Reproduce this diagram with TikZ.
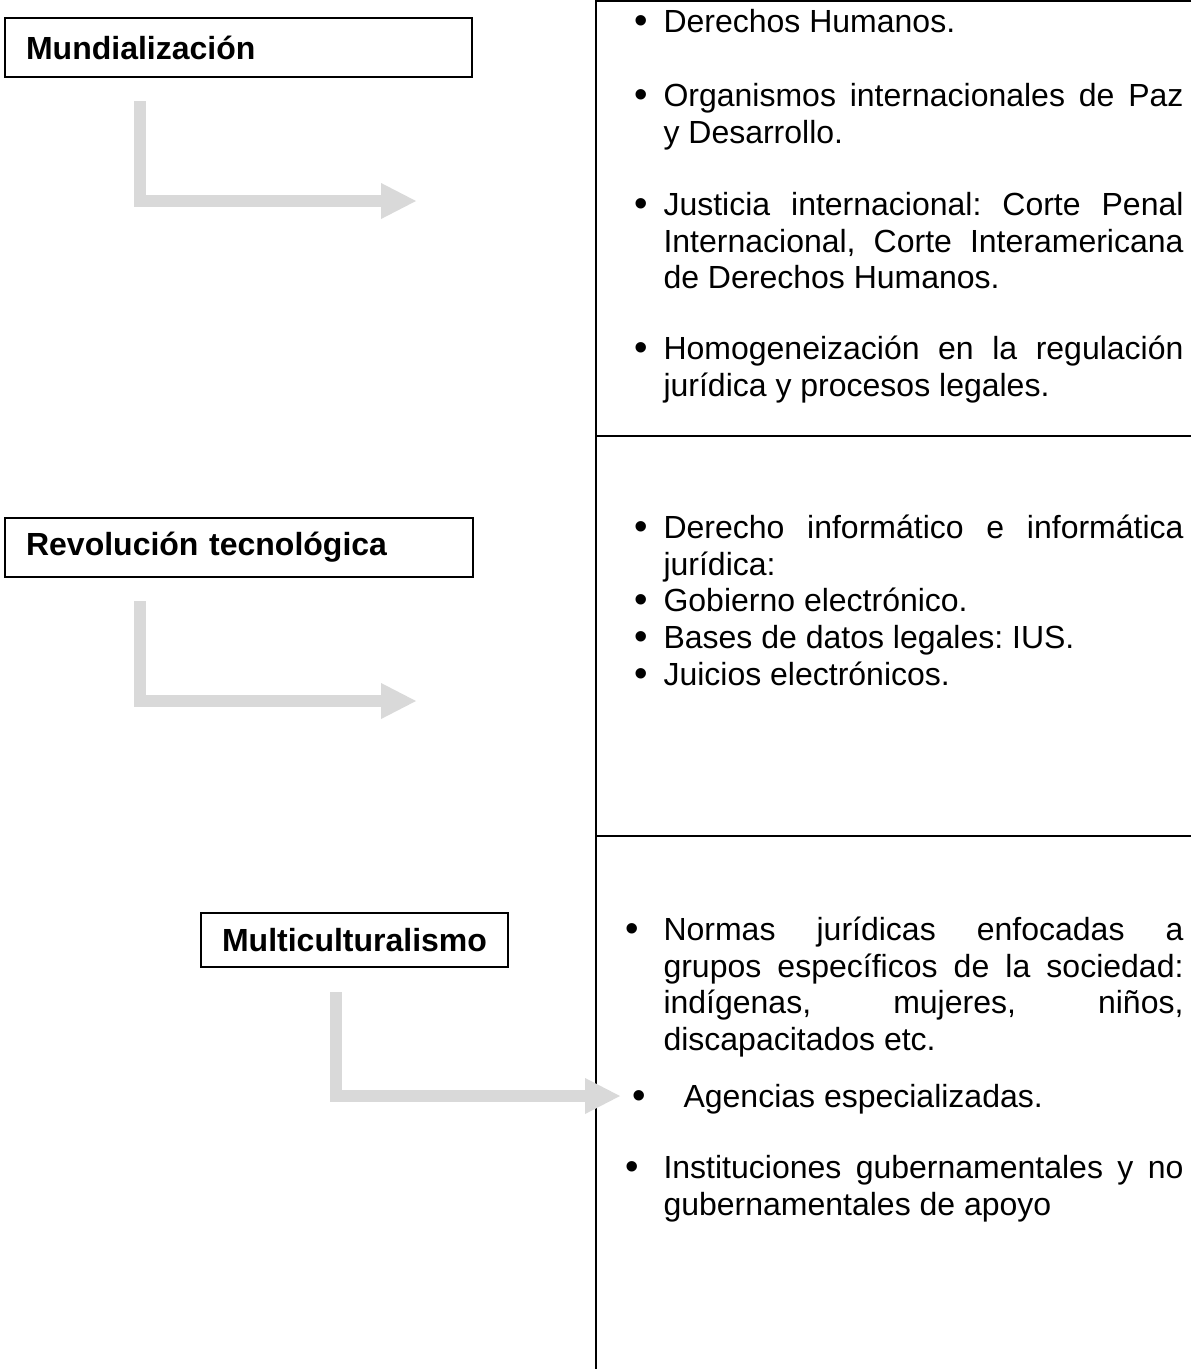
\documentclass[tikz,border=0pt]{standalone}
\usepackage{fontspec}
\setmainfont{Liberation Sans}
\usetikzlibrary{positioning}
\usetikzlibrary{arrows.meta}
\tolerance=10000
\hyphenpenalty=10000
\frenchspacing
\tikzset{
  tema/.style           = { rectangle, draw=black, line width=0.75pt, inner xsep=7.9pt, inner ysep=0pt,
                            font=\fontsize{12}{13.8}\selectfont\bfseries },
  punto/.style          = { anchor=north west, text width=195pt, align=justify, inner sep=0pt,
                            font=\fontsize{12}{13.8}\selectfont },
  flecha/.style         = { draw=black!15, line width=4.5pt,
                            -{Triangle[width=13.5pt,length=13.1pt,line width=0pt]} },
  borde/.style          = { draw=black, line width=0.75pt },
}
\newcommand\vin[1]{\strut\llap{\raisebox{-0.3pt}{\scalebox{1.2}{\textbullet}}\kern#1}}

\begin{document}
\begin{tikzpicture}[x=0.375pt,y=-0.375pt]
  \useasboundingbox (0,0) rectangle (1191,1369);

  \draw [borde] (1191,1) -- (596,1) -- (596,1369);
  \draw [borde] (596,436) -- (1191,436);
  \draw [borde] (596,836) -- (1191,836);

  \node (mundial)    [tema,anchor=north west,text width=159.4pt,minimum height=22.1pt] at (4,17)   {Mundialización};
  \node (revolucion) [tema,anchor=north west,text width=159.8pt,minimum height=22.1pt] at (4,517)  {Revolución tecnológica};
  \node (multi)      [tema,anchor=north west,minimum height=20.3pt]                    at (200,912) {Multiculturalismo};

  \node (derechos)   [punto] at (663,6)    {\vin{5.8pt}Derechos Humanos.};
  \node (organismos) [punto] at (663,80)   {\vin{5.8pt}Organismos internacionales de Paz\linebreak y Desarrollo.};
  \node (justicia)   [punto] at (663,189)  {\vin{5.8pt}Justicia internacional: Corte Penal\linebreak Internacional, Corte Interamericana\linebreak de Derechos Humanos.};
  \node (homogen)    [punto] at (663,333)  {\vin{5.8pt}Homogeneización en la regulación\linebreak jurídica y procesos legales.};

  \node (informat)   [punto] at (663,512)  {\vin{5.8pt}Derecho informático e informática\linebreak jurídica:};
  \node (gobierno)   [punto] at (663,585)  {\vin{5.8pt}Gobierno electrónico.};
  \node (bases)      [punto] at (663,622)  {\vin{5.8pt}Bases de datos legales: IUS.};
  \node (juicios)    [punto] at (663,659)  {\vin{5.8pt}Juicios electrónicos.};

  \node (normas)     [punto] at (663,914)  {\vin{9.1pt}Normas jurídicas enfocadas a\linebreak grupos específicos de la sociedad:\linebreak indígenas, mujeres, niños,\linebreak discapacitados etc.};
  \node (agencias)   [punto,text width=187.5pt] at (683,1081) {\vin{14pt}Agencias especializadas.};
  \node (instit)     [punto] at (663,1152) {\vin{9.1pt}Instituciones gubernamentales y no\linebreak gubernamentales de apoyo};

  \coordinate (ini1) at (140,101);
  \coordinate (fin1) at (416,201);
  \coordinate (ini2) at (140,601);
  \coordinate (fin2) at (416,701);
  \coordinate (ini3) at (336,992);
  \coordinate (fin3) at (620,1096);

  \draw [flecha] (ini1) |- (fin1);
  \draw [flecha] (ini2) |- (fin2);
  \draw [flecha] (ini3) |- (fin3);
\end{tikzpicture}
\end{document}
